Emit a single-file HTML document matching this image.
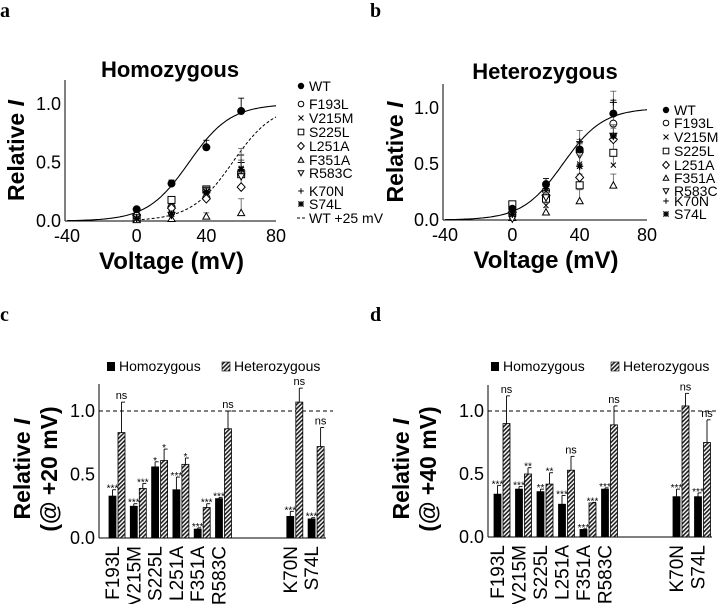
<!DOCTYPE html>
<html><head><meta charset="utf-8"><style>
body{margin:0;background:#fff}
svg{display:block;font-family:"Liberation Sans",Arial,sans-serif}
</style></head><body>
<svg id="fig" width="724" height="604" viewBox="0 0 724 604" xmlns="http://www.w3.org/2000/svg">
<defs>
<pattern id="hatch" patternUnits="userSpaceOnUse" width="3" height="3" patternTransform="rotate(45)">
<rect width="3" height="3" fill="#fff"/><rect width="1.6" height="3" fill="#222"/>
</pattern>
</defs>
<text x="0" y="17" font-family="Liberation Serif,serif" font-weight="bold" font-size="20">a</text>
<text x="370" y="17" font-family="Liberation Serif,serif" font-weight="bold" font-size="20">b</text>
<text x="0" y="321" font-family="Liberation Serif,serif" font-weight="bold" font-size="20">c</text>
<text x="370" y="321" font-family="Liberation Serif,serif" font-weight="bold" font-size="20">d</text>
</svg>
<script>
const voltages=[0,20,40,60];
const mutants=["F193L","V215M","S225L","L251A","F351A","R583C","K70N","S74L"];
const markers=["circle","x","square","diamond","tri","tridown","plus","star"];
const homoWT=[0.10,0.32,0.63,0.94];
const homoWTerr=[0.02,0.03,0.06,0.11];
const homoF193L=[0.05,0.12,0.20,0.40];
const homoV215M=[0.03,0.07,0.25,0.45];
const homoS225L=[0.02,0.18,0.27,0.40];
const homoL251A=[0.05,0.11,0.19,0.29];
const homoF351A=[0.01,0.02,0.04,0.07];
const homoR583C=[0.03,0.05,0.26,0.38];
const homoK70N=[0.03,0.06,0.25,0.50];
const homoS74L=[0.02,0.06,0.25,0.44];
const homoMutErr=[0.01,0.02,0.03,0.12];
const hetWT=[0.10,0.32,0.63,0.95];
const hetWTerr=[0.02,0.05,0.06,0.12];
const hetF193L=[0.05,0.26,0.62,0.86];
const hetV215M=[0.04,0.13,0.50,0.49];
const hetS225L=[0.14,0.19,0.31,0.60];
const hetL251A=[0.07,0.22,0.38,0.72];
const hetF351A=[0.02,0.07,0.17,0.31];
const hetR583C=[0.01,0.20,0.58,0.75];
const hetK70N=[0.08,0.30,0.70,1.05];
const hetS74L=[0.05,0.28,0.48,0.75];
const hetErr=[0.02,0.04,0.1,0.1];
const fitVhalf=30, fitSlope=12, shiftMv=25;
const xTicks=[-40,0,40,80];
const yTicks=[0,0.5,1.0];
const barCats=["F193L","V215M","S225L","L251A","F351A","R583C","K70N","S74L"];
const c20Homo=[0.33,0.25,0.56,0.38,0.07,0.31,0.17,0.15];
const c20HomoErr=[0.05,0.02,0.04,0.10,0.01,0.01,0.04,0.01];
const c20Het=[0.83,0.39,0.61,0.58,0.24,0.86,1.07,0.72];
const c20HetErr=[0.24,0.04,0.09,0.05,0.03,0.14,0.11,0.15];
const c20HomoSig=["***","***","*","***","***","***","***","***"];
const c20HetSig=["ns","***","*","*","***","ns","ns","ns"];
const d40Homo=[0.34,0.38,0.36,0.26,0.06,0.38,0.32,0.32];
const d40HomoErr=[0.07,0.02,0.02,0.07,0.005,0.01,0.06,0.03];
const d40Het=[0.90,0.50,0.42,0.53,0.27,0.89,1.04,0.75];
const d40HetErr=[0.22,0.05,0.09,0.11,0.005,0.15,0.10,0.18];
const d40HomoSig=["***","***","**","***","***","***","***","***"];
const d40HetSig=["ns","**","**","ns","***","ns","ns","ns"];

const svg=document.getElementById('fig');
const NS="http://www.w3.org/2000/svg";
function mk(tag,attrs,parent,text){const e=document.createElementNS(NS,tag);for(const k in attrs)e.setAttribute(k,attrs[k]);if(text!==undefined)e.textContent=text;(parent||svg).appendChild(e);return e;}
function boltz(v,vh){return 1/(1+Math.exp((vh-v)/fitSlope));}

function marker(g,type,x,y,s){
  s=s||3.5;const st={fill:'#fff',stroke:'#000','stroke-width':1};
  if(type==='wt')return mk('circle',{cx:x,cy:y,r:s,fill:'#000'},g);
  if(type==='circle')return mk('circle',Object.assign({cx:x,cy:y,r:s},st),g);
  if(type==='square')return mk('rect',Object.assign({x:x-s,y:y-s,width:2*s,height:2*s},st),g);
  if(type==='diamond')return mk('polygon',Object.assign({points:`${x},${y-s-0.8} ${x+s+0.5},${y} ${x},${y+s+0.8} ${x-s-0.5},${y}`},st),g);
  if(type==='tri')return mk('polygon',Object.assign({points:`${x},${y-s} ${x+s},${y+s*0.8} ${x-s},${y+s*0.8}`},st),g);
  if(type==='tridown')return mk('polygon',Object.assign({points:`${x},${y+s} ${x+s},${y-s*0.8} ${x-s},${y-s*0.8}`},st),g);
  if(type==='x')return mk('path',{d:`M${x-2.5},${y-2.5}L${x+2.5},${y+2.5}M${x+2.5},${y-2.5}L${x-2.5},${y+2.5}`,stroke:'#000','stroke-width':1},g);
  if(type==='plus')return mk('path',{d:`M${x-s},${y}L${x+s},${y}M${x},${y-s}L${x},${y+s}`,stroke:'#000','stroke-width':1},g);
  if(type==='star')return mk('path',{d:`M${x-s},${y}L${x+s},${y}M${x},${y-s}L${x},${y+s}M${x-2.6},${y-2.6}L${x+2.6},${y+2.6}M${x+2.6},${y-2.6}L${x-2.6},${y+2.6}`,stroke:'#000','stroke-width':1.3},g);
}

function linePanel(o){
  const g=mk('g',{});
  
  
  const sx=v=>o.x0+(v-(-40))/120*(o.x1-o.x0);
  const sy=v=>o.y0-v*(o.y0-o.y1);
  mk('line',{x1:o.ax,y1:o.top,x2:o.ax,y2:o.y0,stroke:'#000','stroke-width':1},g);
  mk('line',{x1:o.ax,y1:o.y0,x2:o.x1,y2:o.y0,stroke:'#000','stroke-width':1},g);
  xTicks.forEach(t=>{const tx=mk('text',{x:sx(t),y:o.y0+21,'text-anchor':'middle','font-size':18},g,String(t));
    });
  yTicks.forEach(t=>{const tx=mk('text',{x:o.ax-4,y:sy(t)+6,'text-anchor':'end','font-size':18},g,t.toFixed(1));
    });
  const tt=mk('text',{x:o.titleX,y:o.titleY,'text-anchor':'middle','font-size':22,'font-weight':'bold'},g,o.title);
  
  const xt=mk('text',{x:(o.x0+o.x1)/2,y:o.y0+48,'text-anchor':'middle','font-size':24,'font-weight':'bold'},g,'Voltage (mV)');
  
  const yt=mk('text',{x:0,y:0,transform:`translate(${o.ylx},${(o.top+o.y0)/2}) rotate(-90)`,'text-anchor':'middle','font-size':23,'font-weight':'bold'},g);
  
  mk('tspan',{},yt,'Relative ');mk('tspan',{'font-style':'italic'},yt,'I');
  let d='',d2='';
  for(let v=-40;v<=80;v+=1){d+=(v===-40?'M':'L')+sx(v).toFixed(1)+','+sy(boltz(v,fitVhalf)).toFixed(1);}
  const fit=mk('path',{d:d,fill:'none',stroke:'#000','stroke-width':1.1},g);
  
  if(o.shift){for(let v=0;v<=80;v+=1){d2+=(v===0?'M':'L')+sx(v).toFixed(1)+','+sy(boltz(v,fitVhalf+shiftMv)).toFixed(1);}
    const f2=mk('path',{d:d2,fill:'none',stroke:'#000','stroke-width':1,'stroke-dasharray':'3,2'},g);
    }
  o.series.forEach((s,i)=>{
    s.forEach((v,j)=>{const x=sx(voltages[j]),y=sy(v);
      mk('line',{x1:x,y1:y,x2:x,y2:sy(v+o.merr[j]),stroke:'#555','stroke-width':0.8},g);
      mk('line',{x1:x-3,y1:sy(v+o.merr[j]),x2:x+3,y2:sy(v+o.merr[j]),stroke:'#555','stroke-width':0.8},g);
      const m=marker(g,markers[i],x,y);
      
      });
  });
  o.wt.forEach((v,j)=>{const x=sx(voltages[j]),y=sy(v),ye=sy(v+o.wterr[j]);
    mk('line',{x1:x,y1:y,x2:x,y2:ye,stroke:'#000','stroke-width':0.9},g);
    mk('line',{x1:x-3,y1:ye,x2:x+3,y2:ye,stroke:'#000','stroke-width':0.9},g);
    const m=marker(g,'wt',x,y,4);
    
    });
  const lg=mk('g',{},g);
  
  const entries=[['wt','WT']].concat(mutants.map((m,i)=>[markers[i],m]));
  entries.forEach((e,i)=>{const y=o.legY[i];marker(lg,e[0],o.legX,y,e[0]==='wt'?3.2:2.8);
    const t=mk('text',{x:o.legX+8,y:y+5,'font-size':14},lg,e[1]);
    });
  if(o.shift){const y=o.legY[9];mk('line',{x1:o.legX-4,y1:y,x2:o.legX+4,y2:y,stroke:'#000','stroke-dasharray':'3,2'},lg);
    const t=mk('text',{x:o.legX+8,y:y+5,'font-size':14},lg,'WT +25 mV');
    }
}

linePanel({name:'panel-a-homozygous',x0:67,x1:276,ax:65,y0:221,y1:104,top:80,title:'Homozygous',titleX:170,titleY:77,ylx:24,
  wt:homoWT,wterr:homoWTerr,series:[homoF193L,homoV215M,homoS225L,homoL251A,homoF351A,homoR583C,homoK70N,homoS74L],merr:homoMutErr,
  shift:true,legX:301,legY:[86,104,118,132,146,160,173,191,204,218]});
linePanel({name:'panel-b-heterozygous',x0:445,x1:647,ax:443,y0:220,y1:108,top:84,title:'Heterozygous',titleX:545,titleY:79,ylx:403,
  wt:hetWT,wterr:hetWTerr,series:[hetF193L,hetV215M,hetS225L,hetL251A,hetF351A,hetR583C,hetK70N,hetS74L],merr:hetErr,
  shift:false,legX:666,legY:[110,123,137,151,165,178,191,201,214]});

function barPanel(o){
  const g=mk('g',{});
  
  
  const sy=v=>o.y0-v*(o.y0-o.y1);
  const cx=i=>o.c0+o.step*i+(i>=6?o.gap:0);
  mk('line',{x1:o.ax,y1:o.top,x2:o.ax,y2:o.y0,stroke:'#000'},g);
  mk('line',{x1:o.ax,y1:o.y0,x2:o.xend,y2:o.y0,stroke:'#000'},g);
  const ref=mk('line',{x1:o.ax,y1:sy(1),x2:o.dashEnd,y2:sy(1),stroke:'#000','stroke-dasharray':'4,3'},g);
  
  yTicks.forEach(t=>{const tx=mk('text',{x:o.ax-4,y:sy(t)+6,'text-anchor':'end','font-size':18},g,t.toFixed(1));
    });
  const yt=mk('text',{transform:`translate(${o.ylx},${(o.top+o.y0)/2+8}) rotate(-90)`,'text-anchor':'middle','font-size':23,'font-weight':'bold'},g);
  
  mk('tspan',{x:0,dy:0},yt,'Relative ');mk('tspan',{'font-style':'italic'},yt,'I');
  mk('tspan',{x:0,dy:27},yt,o.sub);
  function bar(v,e,x,hatched,sig){
    const r=mk('rect',{x:x,y:sy(v),width:7,height:o.y0-sy(v),fill:hatched?'url(#hatch)':'#000',stroke:'#000','stroke-width':0.8},g);
    
    
    const xm=x+3.5,ye=sy(v+e);
    mk('line',{x1:xm,y1:sy(v),x2:xm,y2:ye,stroke:'#000','stroke-width':0.9},g);
    mk('line',{x1:xm,y1:ye,x2:xm+3.5,y2:ye,stroke:'#000','stroke-width':0.9},g);
    const st=mk('text',{x:xm,y:ye-(sig==='ns'?3:0)+(sig==='ns'?0:2),'text-anchor':'middle','font-size':sig==='ns'?11:10},g,sig);
    
  }
  barCats.forEach((c,i)=>{const x=cx(i);
    bar(o.homo[i],o.homoErr[i],x-8,false,o.homoSig[i]);
    bar(o.het[i],o.hetErr[i],x+1,true,o.hetSig[i]);
    const t=mk('text',{transform:`translate(${x+2},${o.y0+8}) rotate(-90)`,'text-anchor':'end','font-size':19},g,c);
    });
  const lg=mk('g',{},g);
  
  mk('rect',{x:o.lx1,y:362,width:8,height:9,fill:'#000'},lg);
  let t=mk('text',{x:o.lx1+12,y:371,'font-size':14},lg,'Homozygous');
  
  mk('rect',{x:o.lx2,y:362,width:8,height:9,fill:'url(#hatch)',stroke:'#000','stroke-width':0.6},lg);
  t=mk('text',{x:o.lx2+12,y:371,'font-size':14},lg,'Heterozygous');
  
}
barPanel({name:'panel-c-bars-20mV',ax:99,y0:538,y1:411,top:384,xend:326,dashEnd:333,c0:117,step:21.3,gap:50,ylx:30,sub:'(@ +20 mV)',
  homo:c20Homo,homoErr:c20HomoErr,het:c20Het,hetErr:c20HetErr,homoSig:c20HomoSig,hetSig:c20HetSig,lx1:107,lx2:222});
barPanel({name:'panel-d-bars-40mV',ax:488,y0:537,y1:411,top:385,xend:712,dashEnd:719,c0:502,step:21.5,gap:50,ylx:409,sub:'(@ +40 mV)',
  homo:d40Homo,homoErr:d40HomoErr,het:d40Het,hetErr:d40HetErr,homoSig:d40HomoSig,hetSig:d40HetSig,lx1:491,lx2:611});
</script>
</body></html>
